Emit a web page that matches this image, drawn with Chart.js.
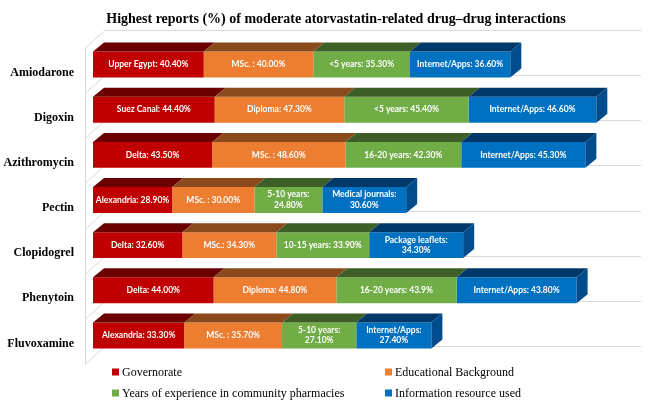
<!DOCTYPE html>
<html>
<head>
<meta charset="utf-8">
<script src="https://cdn.jsdelivr.net/npm/chart.js@4.4.1/dist/chart.umd.min.js"></script>
<style>
  html, body { margin: 0; padding: 0; background: #fff; }
  #wrap { width: 669px; height: 406px; }
</style>
</head>
<body>
<div id="wrap"><canvas id="myChart"></canvas></div>
<script>
// categories and values
const drugs = ['Amiodarone', 'Digoxin', 'Azithromycin', 'Pectin', 'Clopidogrel', 'Phenytoin', 'Fluvoxamine'];
const governorate = [40.4, 44.4, 43.5, 28.9, 32.6, 44.0, 33.3];
const education = [40.0, 47.3, 48.6, 30.0, 34.3, 44.8, 35.7];
const experience = [35.3, 45.4, 42.3, 24.8, 33.9, 43.9, 27.1];
const resource = [36.6, 46.6, 45.3, 30.6, 34.3, 43.8, 27.4];

// text shown inside the bars
const govLabels = ['Upper Egypt: 40.40%', 'Suez Canal: 44.40%', 'Delta: 43.50%', 'Alexandria: 28.90%', 'Delta: 32.60%', 'Delta: 44.00%', 'Alexandria: 33.30%'];
const eduLabels = ['MSc. : 40.00%', 'Diploma: 47.30%', 'MSc. : 48.60%', 'MSc. : 30.00%', 'MSc.: 34.30%', 'Diploma: 44.80%', 'MSc. : 35.70%'];
const expLabels = ['<5 years: 35.30%', '<5 years: 45.40%', '16-20 years: 42.30%', '5-10 years:\n24.80%', '10-15 years: 33.90%', '16-20 years: 43.9%', '5-10 years:\n27.10%'];
const resLabels = ['Internet/Apps: 36.60%', 'Internet/Apps: 46.60%', 'Internet/Apps: 45.30%', 'Medical journals:\n30.60%', 'Package leaflets:\n34.30%', 'Internet/Apps: 43.80%', 'Internet/Apps:\n27.40%'];

const seriesNames = ['Governorate', 'Educational Background', 'Years of experience in community pharmacies', 'Information resource used'];
const chartTitle = 'Highest reports (%) of moderate atorvastatin-related drug\u2013drug interactions';

const frontColors = ['#c00000', '#ed7d31', '#70ad47', '#0070c0'];
const topColors = ['#6a0000', '#8a4a1c', '#3d5e27', '#00386a'];
const sideColor = '#004c8c';
const depthX = 11, depthY = 9;

// walls / gridlines behind the bars
const wallPlugin = {
    id: 'wall',
    beforeDatasetsDraw(chart) {
        const ctx = chart.ctx;
        const ys = chart.scales.y;
        const area = chart.chartArea;
        const step = ys.getPixelForValue(1) - ys.getPixelForValue(0);
        const x0 = 85, wx = 20, wy = 18, shift = 6;
        ctx.save();
        ctx.strokeStyle = '#d9d9d9';
        ctx.lineWidth = 1;
        const top = ys.getPixelForValue(0) - step / 2 + shift;
        const bottom = ys.getPixelForValue(drugs.length - 1) + step / 2 + shift;
        ctx.beginPath();
        ctx.moveTo(x0 + 0.5, top);
        ctx.lineTo(x0 + 0.5, bottom);
        for (let i = 0; i <= drugs.length; i++) {
            const yb = Math.round(top + i * step) + 0.5;
            ctx.moveTo(x0, yb);
            ctx.lineTo(x0 + wx, yb - wy);
            ctx.lineTo(area.right, yb - wy);
        }
        ctx.stroke();
        ctx.restore();
    }
};

// top and side faces of each bar, then the labels
const boxPlugin = {
    id: 'box3d',
    afterDatasetsDraw(chart) {
        const ctx = chart.ctx;
        ctx.save();
        chart.data.datasets.forEach((ds, di) => {
            const meta = chart.getDatasetMeta(di);
            meta.data.forEach((bar) => {
                const p = bar.getProps(['x', 'y', 'base', 'height'], true);
                const left = Math.min(p.x, p.base), right = Math.max(p.x, p.base);
                const top = p.y - p.height / 2, bottom = p.y + p.height / 2;
                ctx.fillStyle = topColors[di];
                ctx.beginPath();
                ctx.moveTo(left, top);
                ctx.lineTo(left + depthX, top - depthY);
                ctx.lineTo(right + depthX, top - depthY);
                ctx.lineTo(right, top);
                ctx.closePath();
                ctx.fill();
                if (di === chart.data.datasets.length - 1) {
                    ctx.fillStyle = sideColor;
                    ctx.beginPath();
                    ctx.moveTo(right, top);
                    ctx.lineTo(right + depthX, top - depthY);
                    ctx.lineTo(right + depthX, bottom - depthY);
                    ctx.lineTo(right, bottom);
                    ctx.closePath();
                    ctx.fill();
                }
            });
        });
        ctx.fillStyle = '#ffffff';
        ctx.font = 'bold 8.5px Lato';
        ctx.textAlign = 'center';
        ctx.textBaseline = 'middle';
        chart.data.datasets.forEach((ds, di) => {
            const meta = chart.getDatasetMeta(di);
            meta.data.forEach((bar, i) => {
                const p = bar.getProps(['x', 'y', 'base'], true);
                const lines = ds.barLabels[i].split('\n');
                const cx = (p.x + p.base) / 2;
                lines.forEach((ln, k) => {
                    ctx.fillText(ln, cx, p.y + (k - (lines.length - 1) / 2) * 10.5);
                });
            });
        });
        ctx.restore();
    }
};

// title and two-column legend
const textPlugin = {
    id: 'texts',
    afterDraw(chart) {
        const ctx = chart.ctx;
        ctx.save();
        ctx.fillStyle = '#000';
        ctx.font = 'bold 14px "Liberation Serif"';
        ctx.textAlign = 'center';
        ctx.textBaseline = 'middle';
        ctx.fillText(chartTitle, 336, 19);

        ctx.font = '12px "Liberation Serif"';
        ctx.textAlign = 'left';
        const pos = [[112, 372], [385, 372], [112, 393], [385, 393]];
        chart.data.datasets.forEach((ds, di) => {
            const [lx, ly] = pos[di];
            ctx.fillStyle = ds.backgroundColor;
            ctx.fillRect(lx, ly - 3.5, 7, 7);
            ctx.fillStyle = '#000';
            ctx.fillText(ds.label, lx + 10, ly + 0.5);
        });
        ctx.restore();
    }
};

const datasets = [governorate, education, experience, resource].map((vals, i) => ({
    label: seriesNames[i],
    data: vals,
    backgroundColor: frontColors[i],
    borderWidth: 0,
    barLabels: [govLabels, eduLabels, expLabels, resLabels][i]
}));

new Chart(document.getElementById('myChart'), {
    type: 'bar',
    data: { labels: drugs, datasets: datasets },
    options: {
        indexAxis: 'y',
        responsive: true,
        maintainAspectRatio: false,
        animation: false,
        layout: { padding: { top: 42, bottom: 48, left: 0, right: 28 } },
        datasets: { bar: { barPercentage: 0.575, categoryPercentage: 1 } },
        plugins: {
            legend: { display: false },
            title: { display: false },
            tooltip: { enabled: false }
        },
        scales: {
            x: { stacked: true, min: 0, max: 200, display: false },
            y: {
                stacked: true,
                grid: { display: false, drawTicks: false },
                border: { display: false },
                afterFit(scale) { scale.width = 93; },
                ticks: {
                    padding: 19,
                    labelOffset: 8,
                    color: '#000',
                    font: { family: 'Liberation Serif', size: 12, weight: 'bold' }
                }
            }
        }
    },
    plugins: [wallPlugin, boxPlugin, textPlugin]
});
</script>
</body>
</html>
